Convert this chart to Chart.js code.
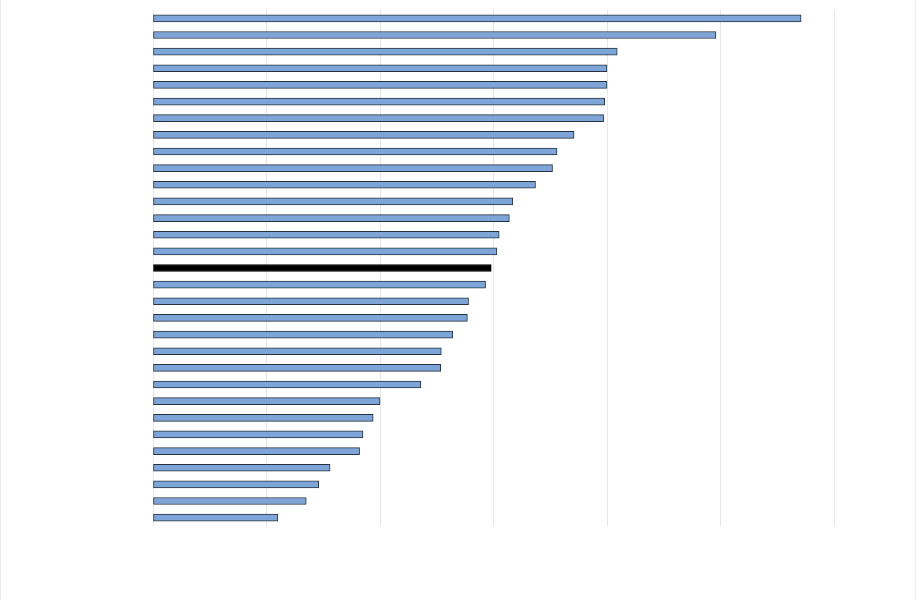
<!DOCTYPE html>
<html>
<head>
<meta charset="utf-8">
<script src="https://cdn.jsdelivr.net/npm/chart.js@4/dist/chart.umd.min.js"></script>
<style>
  html, body { margin: 0; padding: 0; background: #ffffff; }
  #wrap { position: relative; width: 916px; height: 600px; box-sizing: border-box;
          border-left: 1px solid #ececec; border-right: 1px solid #ececec; }
  canvas { display: block; }
</style>
</head>
<body>
<div id="wrap"><canvas id="c" width="914" height="600"></canvas></div>
<script>
// Category labels are not visible in the reference (tick text hidden)
const categories = [
  "C01","C02","C03","C04","C05","C06","C07","C08","C09","C10",
  "C11","C12","C13","C14","C15","C16","C17","C18","C19","C20",
  "C21","C22","C23","C24","C25","C26","C27","C28","C29","C30","C31"
];
const values = [
  57.1, 49.6, 40.9, 40.0, 40.0, 39.8, 39.7, 37.1, 35.6, 35.2,
  33.7, 31.7, 31.4, 30.5, 30.3, 29.8, 29.3, 27.8, 27.7, 26.4,
  25.4, 25.35, 23.6, 20.0, 19.4, 18.5, 18.2, 15.6, 14.6, 13.5, 11.0
];
const highlightCategory = "C16";
const xTicks = [0, 10, 20, 30, 40, 50, 60];

const fillColors = categories.map(c => c === highlightCategory ? "#000000" : "#7ea5d8");
const borderColors = categories.map(c => c === highlightCategory ? "#000000" : "#26323f");

new Chart(document.getElementById("c"), {
  type: "bar",
  data: {
    labels: categories,
    datasets: [{
      data: values,
      backgroundColor: fillColors,
      borderColor: borderColors,
      borderWidth: 1,
      borderSkipped: false,
      barThickness: 7
    }]
  },
  options: {
    indexAxis: "y",
    responsive: false,
    devicePixelRatio: 1,
    animation: false,
    layout: { padding: { left: 152, right: 81, top: 10, bottom: 74 } },
    plugins: { legend: { display: false }, tooltip: { enabled: false } },
    scales: {
      x: {
        min: xTicks[0], max: xTicks[xTicks.length - 1],
        afterBuildTicks: s => { s.ticks = xTicks.map(v => ({ value: v })); },
        ticks: { display: false },
        grid: { color: "#e6e6e6", lineWidth: 1, drawTicks: false },
        border: { display: false }
      },
      y: {
        ticks: { display: false },
        grid: { display: false, drawTicks: false },
        border: { display: false }
      }
    }
  }
});
</script>
</body>
</html>
